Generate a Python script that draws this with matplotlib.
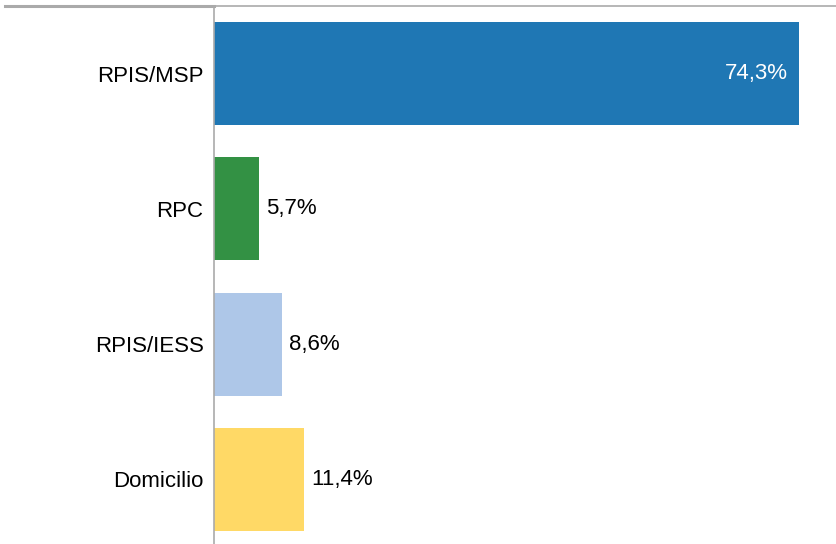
import matplotlib
matplotlib.use("Agg")
from matplotlib import pyplot as plt

categories = ["RPIS/MSP", "RPC", "RPIS/IESS", "Domicilio"]
values = [74.3, 5.7, 8.6, 11.4]
labels = ["74,3%", "5,7%", "8,6%", "11,4%"]
colors = ["#1f77b4", "#339144", "#aec7e8", "#ffd966"]

plt.rcParams['font.family'] = ['Liberation Sans', 'DejaVu Sans']

fig = plt.figure(figsize=(8.36, 5.44), dpi=100)
ax = fig.add_axes([214 / 836, -3 / 544, 622 / 836, 541 / 544])

pos = list(range(len(categories)))
ax.barh(pos, values, height=0.76, color=colors)
ax.set_xlim(0, 79)
ax.set_ylim(3.5, -0.5)
ax.set_yticks(pos)
ax.set_yticklabels(categories, fontsize=16)
ax.tick_params(axis='y', length=0, pad=7.5)
ax.set_xticks([])

for i, (v, lab) in enumerate(zip(values, labels)):
    if v > 40:
        ax.text(v - 1.4, i, lab, ha='right', va='center', color='white', fontsize=16)
    else:
        ax.text(v + 0.9, i, lab, ha='left', va='center', color='black', fontsize=16)

for s in ['right', 'bottom']:
    ax.spines[s].set_visible(False)
ax.spines['left'].set_color('#aaaaaa')
ax.spines['left'].set_linewidth(1.2)
ax.spines['top'].set_color('#aaaaaa')
ax.spines['top'].set_linewidth(1.2)

# grey rule on the label side at the top
fig.add_artist(plt.Line2D([5 / 836, 214 / 836], [538.5 / 544, 538.5 / 544],
                          color='#aaaaaa', linewidth=2.2))

fig.savefig("out.png", dpi=100)
